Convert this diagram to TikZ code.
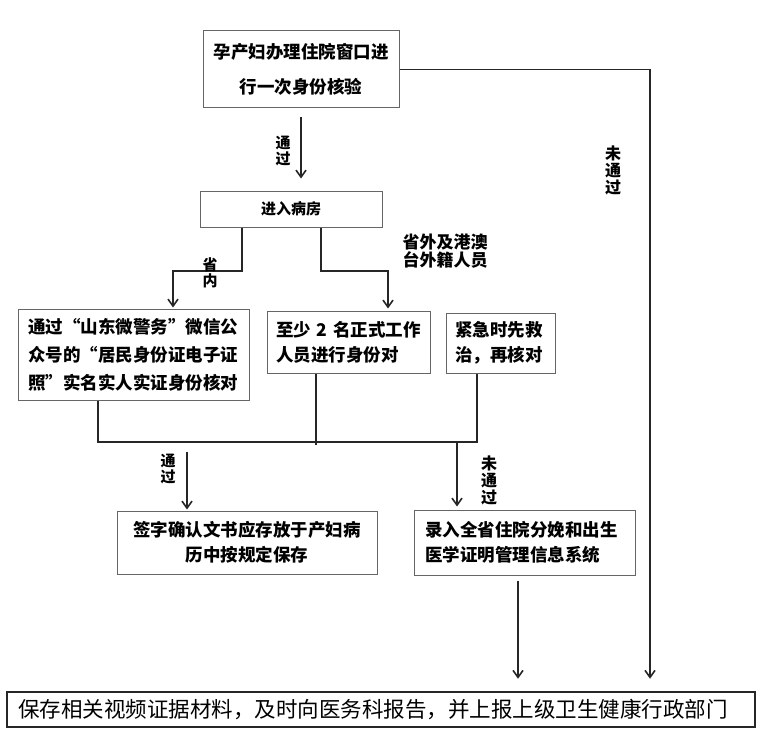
\documentclass[tikz,border=0pt]{standalone}
\usepackage{fontspec}
\newfontfamily\cjk{Noto Sans CJK SC}
\usetikzlibrary{arrows.meta}

\begin{document}
\begin{tikzpicture}[x=1pt, y=-1pt, >={Straight Barb[length=7pt,width=10pt]},
    box/.style={draw=black!60, line width=1pt, inner sep=0pt, font=\cjk\bfseries\fontsize{17.5}{25}\selectfont},
    link/.style={draw=black!85, line width=1.6pt},
    tag/.style={font=\cjk\bfseries\fontsize{15}{16}\selectfont, align=center, inner sep=0pt}]
        \useasboundingbox (0,0) rectangle (771,741);

        % Boxes of the flow
        \node[box, minimum width=196pt, minimum height=77pt, align=center,
              font=\cjk\bfseries\fontsize{17.5}{35}\selectfont] (start) at (301,69.5)
              {孕产妇办理住院窗口进\\行一次身份核验};
        \node[box, minimum width=182pt, minimum height=36pt,
              font=\cjk\bfseries\fontsize{15}{16}\selectfont] (ward) at (291,209) {进入病房};
        \node[box, minimum width=231pt, minimum height=91pt, text width=211pt, align=left,
              font=\cjk\bfseries\fontsize{17.5}{28}\selectfont] (online) at (133.5,354.5)
              {通过“山东微警务”微信公\\众号的“居民身份证电子证\\照”实名实人实证身份核对};
        \node[box, minimum width=163pt, minimum height=62pt, text width=145pt, align=left] (staff) at (348.5,342)
              {至少~2~名正式工作\\人员进行身份对};
        \node[box, minimum width=109pt, minimum height=60pt, text width=91pt, align=left] (urgent) at (500.5,343)
              {紧急时先救\\治，再核对};
        \node[box, minimum width=260pt, minimum height=63pt, align=center] (sign) at (247,542.5)
              {签字确认文书应存放于产妇病\\历中按规定保存};
        \node[box, minimum width=221pt, minimum height=65pt, text width=199pt, align=left] (record) at (524.5,542.5)
              {录入全省住院分娩和出生\\医学证明管理信息系统};
        \node[box, draw=black!85, line width=2.5pt, minimum width=748pt, minimum height=35pt, text width=726pt,
              align=left, font=\cjk\fontsize{21.5}{24}\selectfont] (report) at (381,709.5)
              {保存相关视频证据材料，及时向医务科报告，并上报上级卫生健康行政部门};

        % Junction points
        \coordinate (rx) at (650,0);
        \coordinate (inA) at (242,271);
        \coordinate (inB) at (173,271);
        \coordinate (outA) at (321,271);
        \coordinate (outB) at (388,271);
        \coordinate (mergeL) at (98,442);
        \coordinate (mergeM) at (316,445);
        \coordinate (mergeR) at (477,442);
        \coordinate (passTop) at (187,452);
        \coordinate (failTop) at (457,442);
        \coordinate (downX) at (518,0);

        % Connectors
        \draw[link, ->, shorten <=9pt, shorten >=12pt] (start.south) -- (start.south |- ward.north);
        \draw[link, ->, shorten >=12pt] (start.east) -| (rx |- report.north);
        \draw[link, ->, shorten >=1pt] (ward.south -| inA) -- (inA) -- (inB) -- (inB |- online.north);
        \draw[link, ->, shorten >=2pt] (ward.south -| outA) -- (outA) -- (outB) -- (outB |- staff.north);
        \draw[link] (online.south -| mergeL) -- (mergeL) -- (mergeR) -- (urgent.south -| mergeR);
        \draw[link] (staff.south -| mergeM) -- (mergeM);
        \draw[link, ->, shorten >=1pt] (passTop) -- (passTop |- sign.north);
        \draw[link, ->, shorten >=3pt] (failTop) -- (failTop |- record.north);
        \draw[link, ->, shorten <=5pt, shorten >=12pt] (record.south -| downX) -- (downX |- report.north);

        % Labels on the connectors
        \node[tag] (passA) at (283,151) {通\\过};
        \node[tag, font=\cjk\bfseries\fontsize{16}{17}\selectfont] (failA) at (613,170) {未\\通\\过};
        \node[tag] (inside) at (210,272.5) {省\\内};
        \node[tag, font=\cjk\bfseries\fontsize{17}{18}\selectfont] (outside) at (445,251) {省外及港澳\\台外籍人员};
        \node[tag] (passB) at (168,469) {通\\过};
        \node[tag, font=\cjk\bfseries\fontsize{16}{17}\selectfont] (failB) at (489,480) {未\\通\\过};
\end{tikzpicture}
\end{document}
